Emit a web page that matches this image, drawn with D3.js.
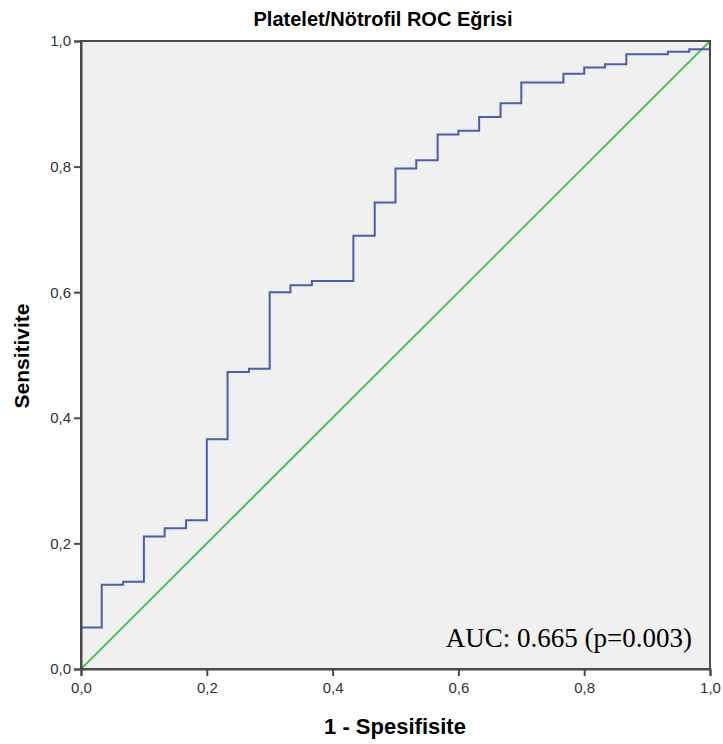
<!DOCTYPE html>
<html>
<head>
<meta charset="utf-8">
<script src="https://cdn.jsdelivr.net/npm/d3@7"></script>
<style>
  body { margin: 0; background: #fff; }
  text { font-family: Arial, "Liberation Sans", sans-serif; }
</style>
</head>
<body>
<div id="chart"></div>
<script>
// ROC step points: at each fpr the curve rises to tpr
const fpr = [0, 0, 0.033, 0.067, 0.1, 0.133, 0.167, 0.2, 0.233, 0.267, 0.3, 0.333, 0.367,
  0.433, 0.467, 0.5, 0.533, 0.567, 0.6, 0.633, 0.667, 0.7, 0.767, 0.8, 0.833, 0.867,
  0.933, 0.967, 1, 1];
const tpr = [0, 0.066, 0.134, 0.139, 0.211, 0.224, 0.237, 0.366, 0.473, 0.478, 0.6, 0.611, 0.618,
  0.69, 0.743, 0.797, 0.81, 0.851, 0.857, 0.879, 0.901, 0.934, 0.948, 0.958, 0.963, 0.979,
  0.983, 0.987, 0.987, 1];
const refLine = [0, 1];
const ticks = [0, 0.2, 0.4, 0.6, 0.8, 1.0];
const tickLabels = ["0,0", "0,2", "0,4", "0,6", "0,8", "1,0"];

const W = 723, H = 744;
const pLeft = 81, pRight = 710, pTop = 41, pBottom = 669;

const svg = d3.select("#chart").append("svg")
  .attr("width", W)
  .attr("height", H);

const x = d3.scaleLinear().domain([0, 1]).range([pLeft, pRight]);
const y = d3.scaleLinear().domain([0, 1]).range([pBottom, pTop]);

// plot background
svg.append("rect")
  .attr("x", pLeft).attr("y", pTop)
  .attr("width", pRight - pLeft).attr("height", pBottom - pTop)
  .attr("fill", "#f0f0f0");

// reference diagonal
svg.append("line")
  .attr("x1", x(refLine[0])).attr("y1", y(refLine[0]))
  .attr("x2", x(refLine[1])).attr("y2", y(refLine[1]))
  .attr("stroke", "#4cc552")
  .attr("stroke-width", 2);

// ROC curve
const pts = fpr.map((f, i) => ({ f, t: tpr[i] }));
const line = d3.line()
  .x((d) => x(d.f))
  .y((d) => y(d.t))
  .curve(d3.curveStepAfter);

svg.append("path")
  .attr("d", line(pts))
  .attr("fill", "none")
  .attr("stroke", "#4a5cb4")
  .attr("stroke-width", 2);

// frame
svg.append("rect")
  .attr("x", pLeft).attr("y", pTop)
  .attr("width", pRight - pLeft).attr("height", pBottom - pTop)
  .attr("fill", "none")
  .attr("stroke", "#4a4a4a")
  .attr("stroke-width", 2);

// axes
const fmt = (d) => tickLabels[ticks.indexOf(d)];
const xAxis = d3.axisBottom(x).tickValues(ticks).tickFormat(fmt).tickSize(7).tickPadding(6);
const yAxis = d3.axisLeft(y).tickValues(ticks).tickFormat(fmt).tickSize(7).tickPadding(3);

const gx = svg.append("g")
  .attr("transform", `translate(0, ${pBottom})`)
  .call(xAxis);
const gy = svg.append("g")
  .attr("transform", `translate(${pLeft}, 0)`)
  .call(yAxis);

[gx, gy].forEach((g) => {
  g.select(".domain").attr("stroke", "#4a4a4a").attr("stroke-width", 2);
  g.selectAll(".tick line").attr("stroke", "#4a4a4a").attr("stroke-width", 2);
  g.selectAll(".tick text")
    .attr("fill", "#333")
    .style("font-size", "15px")
    .style("font-family", "Arial, 'Liberation Sans', sans-serif");
});

// titles
svg.append("text")
  .attr("x", 383).attr("y", 26)
  .attr("text-anchor", "middle")
  .style("font-size", "20px")
  .style("font-weight", "bold")
  .text("Platelet/Nötrofil ROC Eğrisi");

svg.append("text")
  .attr("x", 395).attr("y", 734)
  .attr("text-anchor", "middle")
  .style("font-size", "22px")
  .style("font-weight", "bold")
  .text("1 - Spesifisite");

svg.append("text")
  .attr("transform", `translate(29, 356) rotate(-90)`)
  .attr("text-anchor", "middle")
  .style("font-size", "21px")
  .style("font-weight", "bold")
  .text("Sensitivite");

svg.append("text")
  .attr("x", 692).attr("y", 647)
  .attr("text-anchor", "end")
  .style("font-family", "'Liberation Serif', 'Times New Roman', serif")
  .style("font-size", "27px")
  .text("AUC: 0.665 (p=0.003)");
</script>
</body>
</html>
